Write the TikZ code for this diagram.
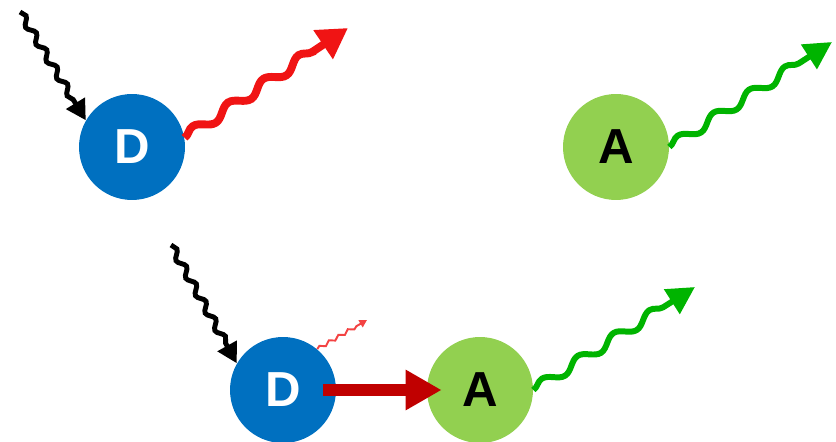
\documentclass[tikz,border=0pt]{standalone}
\usepackage{fontspec}
\setmainfont{Liberation Sans}
\usetikzlibrary{arrows.meta,decorations.pathmorphing}

\definecolor{dblue}{RGB}{0,112,192}
\definecolor{agreen}{RGB}{146,208,80}
\definecolor{wred}{RGB}{240,20,20}
\definecolor{dred}{RGB}{192,0,0}
\definecolor{wgreen}{RGB}{0,180,0}

\tikzset{
  donor/.style={circle,fill=dblue,text=white,minimum size=2.12cm,inner sep=0pt,
    font=\fontsize{28}{30}\selectfont\bfseries},
  acceptor/.style={circle,fill=agreen,text=black,minimum size=2.12cm,inner sep=0pt,
    font=\fontsize{28}{30}\selectfont\bfseries},
  wave/.style n args={3}{decorate,decoration={snake,amplitude=#1,segment length=#2,post length=#3}}
}

\begin{document}
\begin{tikzpicture}[x=0.02cm,y=-0.02cm]
\useasboundingbox (0,0) rectangle (836,442);

\node[donor] (D1) at (132,147) {D};
\node[acceptor] (A1) at (616,147) {A};
\node[donor] (D2) at (283,390) {D};
\node[acceptor] (A2) at (480,390) {A};

\coordinate (L1) at (20,12);
\coordinate (R1) at (348,28);
\coordinate (G1) at (832,42);
\coordinate (L2) at (171,245);
\coordinate (R2) at (367,320);
\coordinate (G2) at (695,287);

% top: donor emits on its own
\draw [black,line width=2.8pt,wave={0.065cm}{0.4cm}{0.4cm},-{Triangle[length=0.4cm,width=0.42cm]}] (L1) -- (D1.150);
\draw [wred,line width=4.5pt,wave={0.1cm}{0.85cm}{0.7cm},-{Triangle[length=0.6cm,width=0.66cm]}] (D1.10) -- (R1);
\draw [wgreen,line width=3.4pt,wave={0.1cm}{0.85cm}{0.7cm},-{Triangle[length=0.55cm,width=0.56cm]}] (A1.east) -- (G1);

% bottom: transfer from donor to acceptor
\draw [black,line width=2.8pt,wave={0.065cm}{0.4cm}{0.4cm},-{Triangle[length=0.4cm,width=0.42cm]}] (L2) -- (D2.150);
\draw [wred!80,line width=1.1pt,wave={0.035cm}{0.22cm}{0.18cm},-{Triangle[length=0.15cm,width=0.16cm]}] (D2.50) -- (R2);
\draw [dred,line width=6.8pt,-{Triangle[length=0.72cm,width=0.76cm]},shorten <=-0.26cm,shorten >=-0.3cm] (D2.east) -- (A2.west);
\draw [wgreen,line width=3.4pt,wave={0.1cm}{0.85cm}{0.7cm},-{Triangle[length=0.55cm,width=0.56cm]}] (A2.east) -- (G2);

\end{tikzpicture}
\end{document}
